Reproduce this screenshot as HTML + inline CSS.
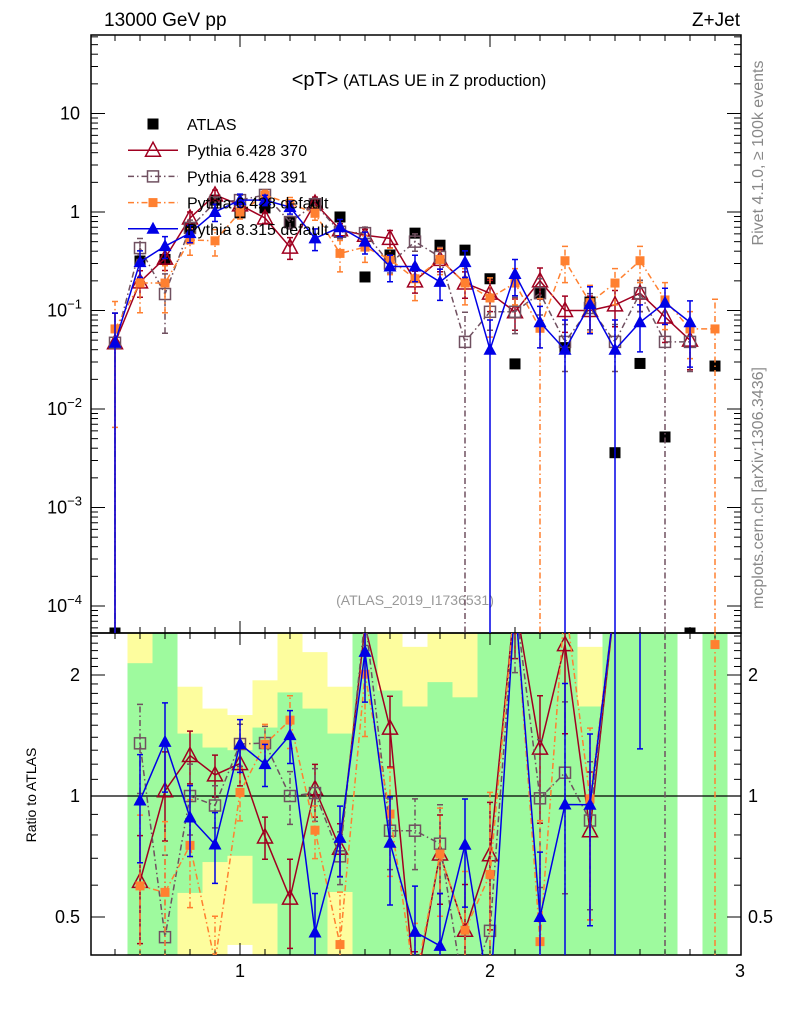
<!DOCTYPE html>
<html><head><meta charset="utf-8"><style>
html,body{margin:0;padding:0;background:#fff;width:786px;height:1024px;overflow:hidden;}
svg{display:block;font-family:"Liberation Sans",sans-serif;}
</style></head><body>
<svg id="chart" width="786" height="1024" viewBox="0 0 786 1024" xmlns="http://www.w3.org/2000/svg" overflow="hidden">
<defs>
<clipPath id="clipMain"><rect x="91" y="35" width="650" height="598"/></clipPath>
<clipPath id="clipRatio"><rect x="91" y="633" width="650" height="322"/></clipPath>
</defs>
<text x="104" y="26" font-size="19">13000 GeV pp</text>
<text x="740" y="26" font-size="19" text-anchor="end">Z+Jet</text>
<text x="419" y="86" font-size="16.5" text-anchor="middle"><tspan font-size="20">&lt;pT&gt;</tspan> (ATLAS UE in Z production)</text>
<text x="415" y="605" font-size="14" fill="#999" text-anchor="middle">(ATLAS_2019_I1736531)</text>
<text transform="translate(763,153) rotate(-90)" font-size="16" fill="#888" text-anchor="middle">Rivet 4.1.0, ≥ 100k events</text>
<text transform="translate(763,488) rotate(-90)" font-size="16" fill="#888" text-anchor="middle">mcplots.cern.ch [arXiv:1306.3436]</text>
<text transform="translate(36,795) rotate(-90)" font-size="14" text-anchor="middle">Ratio to ATLAS</text>
<g id="bands" clip-path="url(#clipRatio)"></g>
<g id="axes"></g>
<g id="mainMarks" clip-path="url(#clipMain)"></g>
<g id="ratioMarks" clip-path="url(#clipRatio)"></g>
<g id="legend"></g>
</svg>
<script>
// ---- data ----
const xBins = [0.5,0.6,0.7,0.8,0.9,1.0,1.1,1.2,1.3,1.4,1.5,1.6,1.7,1.8,1.9,2.0,2.1,2.2,2.3,2.4,2.5,2.6,2.7,2.8,2.9];
const atlasVals = [0,0.318,0.33,0.69,1.32,0.98,1.10,0.79,1.18,0.89,0.219,0.366,0.61,0.46,0.41,0.21,0.0287,0.152,0.042,0.122,0.0036,0.029,0.0052,0,0.0273];
const p370Vals = [0.047,0.195,0.34,0.87,1.49,1.18,0.87,0.44,1.23,0.66,0.58,0.54,0.20,0.33,0.19,0.15,0.097,0.20,0.10,0.10,0.114,0.15,0.086,0.05,null];
const p370Err = [1,0.3,0.25,0.15,0.12,0.12,0.12,0.25,0.15,0.15,0.15,0.2,0.25,0.25,0.3,0.35,0.35,0.35,0.4,0.4,0.4,0.35,0.45,0.5,0];
const p391Vals = [0.047,0.43,0.147,0.69,1.25,1.32,1.49,0.79,1.2,0.63,0.61,0.30,0.50,0.35,0.048,0.097,0.097,0.15,0.048,0.106,0.048,0.15,0.048,0.048,null];
const p391Err = [1,0.25,0.6,0.2,0.12,0.12,0.1,0.15,0.15,0.15,0.15,0.2,0.2,0.25,1,0.35,0.4,0.4,0.5,0.4,0.5,0.35,1,0.5,0];
const p6defVals = [0.065,0.19,0.19,0.52,0.51,1.0,1.48,1.22,0.97,0.38,0.44,0.33,0.21,0.33,0.19,0.134,0.19,0.066,0.32,0.12,0.19,0.32,0.128,0.065,0.065];
const p6defErr = [0.9,0.5,0.5,0.3,0.3,0.15,0.12,0.15,0.15,0.35,0.3,0.3,0.4,0.3,0.4,0.6,0.4,1,0.4,0.5,0.4,0.4,0.5,0.5,1];
const p8Vals = [0.047,0.31,0.45,0.61,1.0,1.32,1.32,1.12,0.54,0.70,0.50,0.28,0.28,0.195,0.31,0.040,0.235,0.076,0.040,0.116,0.040,0.076,0.12,0.076,null];
const p8Err = [1,0.3,0.25,0.2,0.2,0.15,0.12,0.15,0.25,0.2,0.25,0.3,0.3,0.35,0.3,1,0.4,0.45,1,0.5,1,0.5,0.4,0.65,0];
const greenHi = [null,2.14,3,1.43,1.32,1.30,1.48,1.81,1.65,1.43,3,1.83,1.67,1.92,1.76,3,3,3,3,1.67,3,3,3,null,3];
const greenLo = [null,0.3,0.3,0.574,0.685,0.71,0.54,0.3,0.3,0.577,0.3,0.3,0.3,0.3,0.3,0.3,0.3,0.3,0.3,0.3,0.3,0.3,0.3,null,0.3];
const yellowHi = [null,3,3,1.87,1.65,1.59,1.94,3,2.28,1.87,3,3,2.35,3,3,3,3,3,3,2.35,3,3,3,null,3];
const yellowLo = [null,0.3,0.3,0.3,0.3,0.426,0.3,0.3,0.3,0.3,0.3,0.3,0.3,0.3,0.3,0.3,0.3,0.3,0.3,0.3,0.3,0.3,0.3,null,0.3];
const xTickLabels = ["1","2","3"];
const xTickVals = [1,2,3];
const mainTickExps = [1,0,-1,-2,-3,-4];
const ratioTickVals = [0.5,1,2];
const ratioTickLabels = ["0.5","1","2"];

// ---- geometry ----
const L=91,R=741,T=35,B=633,RT=633,RB=955;
const binW=0.1;
function xScale(x){return 90+(x-0.4)*250;}
function yMain(v){ if(v===null) return null; if(v<=0) return 700; return 212-98.5*Math.log10(v);}
function yRatio(r){ if(r===null) return null; if(r<=0) return 1000; return Math.max(600,Math.min(1000,796-121*Math.log2(r)));}
const NS="http://www.w3.org/2000/svg";
function mk(parent,tag,attrs){const e=document.createElementNS(NS,tag);for(const k in attrs)e.setAttribute(k,attrs[k]);parent.appendChild(e);return e;}
const gAxes=document.getElementById('axes'),gMain=document.getElementById('mainMarks'),gRatio=document.getElementById('ratioMarks'),gBands=document.getElementById('bands'),gLeg=document.getElementById('legend');

// ---- bands ----
function drawBand(lo,hi,color,name){
  for(let i=0;i<xBins.length;i++){
    if(hi[i]===null) continue;
    const x0=xScale(xBins[i]-binW/2), x1=xScale(xBins[i]+binW/2);
    const y0=yRatio(hi[i]), y1=yRatio(lo[i]);
    const r=mk(gBands,'rect',{x:x0,y:y0,width:x1-x0,height:y1-y0,fill:color});
    
    
  }
}
drawBand(yellowLo,yellowHi,'#fdfd9e','ratio-band-yellow');
drawBand(greenLo,greenHi,'#9efa9e','ratio-band-green');

// ---- axes ----
const frameM=mk(gAxes,'rect',{x:L,y:T,width:R-L,height:B-T,fill:'none',stroke:'#000','stroke-width':1.5});


const frameR=mk(gAxes,'rect',{x:L,y:RT,width:R-L,height:RB-RT,fill:'none',stroke:'#000','stroke-width':1.5});


const unity=mk(gAxes,'line',{x1:L,x2:R,y1:yRatio(1),y2:yRatio(1),stroke:'#000','stroke-width':1.2});


function tick(x1,y1,x2,y2,name){const t=mk(gAxes,'line',{x1,y1,x2,y2,stroke:'#000','stroke-width':1});
  
  }
for(let k=5;k<=29;k++){const x=xScale(k/10);const major=(k%10===0);const len=major?12:6;
  tick(x,T,x,T+len,'x-tick-top');tick(x,B,x,B-len,'x-tick-main-bottom');
  tick(x,RT,x,RT+len,'x-tick-ratio-top');tick(x,RB,x,RB-len,'x-tick-bottom');}
xTickVals.forEach((v,i)=>{const t=mk(gAxes,'text',{x:xScale(v),y:977,'font-size':18,'text-anchor':'middle'});t.textContent=xTickLabels[i];
  
  });
for(let e=-5;e<=1;e++){for(let m=1;m<=9;m++){const v=m*Math.pow(10,e);const y=212-98.5*Math.log10(v);if(y<T||y>B)continue;const len=(m===1)?14:7;
  tick(L,y,L+len,y,'y-tick-main');tick(R,y,R-len,y,'y-tick-main-right');}}
mainTickExps.forEach(e=>{const y=212-98.5*e;const t=mk(gAxes,'text',{x:e<0?82:80,y:y+6,'font-size':18,'text-anchor':'end'});
  
  
  if(e===1)t.textContent='10';else if(e===0)t.textContent='1';
  else{t.textContent='10';const s=mk(t,'tspan',{dy:-8,'font-size':13});s.textContent='−'+(-e);}});
for(let r=0.4;r<=2.55;r+=0.1){const rr=Math.round(r*10)/10;const y=796-121*Math.log2(rr);if(y<RT||y>RB)continue;const major=(rr===0.5||rr===1||rr===2);const len=major?14:7;
  tick(L,y,L+len,y,'y-tick-ratio');tick(R,y,R-len,y,'y-tick-ratio-right');}
ratioTickVals.forEach((v,i)=>{const y=yRatio(v);
  const t=mk(gAxes,'text',{x:80,y:y+6,'font-size':18,'text-anchor':'end'});t.textContent=ratioTickLabels[i];
  
  
  const t2=mk(gAxes,'text',{x:748,y:y+6,'font-size':18});t2.textContent=ratioTickLabels[i];
  
  });

// ---- markers ----
function marker(g,type,x,y,color,name){let m;
  if(type==='sqf') m=mk(g,'rect',{x:x-5.5,y:y-5.5,width:11,height:11,fill:color});
  else if(type==='sqs') m=mk(g,'rect',{x:x-4.5,y:y-4.5,width:9,height:9,fill:color});
  else if(type==='sqo') m=mk(g,'rect',{x:x-5.5,y:y-5.5,width:11,height:11,fill:'none',stroke:color,'stroke-width':1.5});
  else if(type==='tro') m=mk(g,'polygon',{points:`${x},${y-8} ${x-7.5},${y+6} ${x+7.5},${y+6}`,fill:'none',stroke:color,'stroke-width':1.5});
  else m=mk(g,'polygon',{points:`${x},${y-7} ${x-6.5},${y+5} ${x+6.5},${y+5}`,fill:color});
  
  }

const series=[
 {name:'pythia6-370',vals:p370Vals,err:p370Err,color:'#a00020',dash:'',mk:'tro'},
 {name:'pythia6-391',vals:p391Vals,err:p391Err,color:'#705060',dash:'6,3,1.5,3',mk:'sqo'},
 {name:'pythia6-default',vals:p6defVals,err:p6defErr,color:'#ff8030',dash:'6,3,1.5,3',mk:'sqs'},
 {name:'pythia8-default',vals:p8Vals,err:p8Err,color:'#0000e6',dash:'',mk:'trf'}
];
function drawSeries(s,g,yfn,ratio){
  const pts=[];
  let path='';let pen=false;
  for(let i=0;i<xBins.length;i++){
    let v=s.vals[i];
    if(v!==null&&ratio){ v=(atlasVals[i]>0)?v/atlasVals[i]:null; }
    if(v===null){pen=false;continue;}
    const x=xScale(xBins[i]),y=yfn(v);
    path+=(pen?'L':'M')+x+','+y+' ';pen=true;
    pts.push([i,x,y,v]);
  }
  const ln=mk(g,'path',{d:path,fill:'none',stroke:s.color,'stroke-width':1.5,'stroke-dasharray':s.dash});
  
  
  pts.forEach(([i,x,y,v])=>{
    const e=s.err[i];if(e>0){
      const yl=yfn(v*(1-e)),yh=yfn(v*(1+e));
      const eb=mk(g,'path',{d:`M${x},${yl}L${x},${yh}M${x-3},${yl}L${x+3},${yl}M${x-3},${yh}L${x+3},${yh}`,stroke:s.color,'stroke-width':1.5,fill:'none','stroke-dasharray':s.dash});
      
      
    }
    marker(g,s.mk,x,y,s.color,s.name+(ratio?'-ratio-point':'-point'));
  });
}
for(let i=0;i<xBins.length;i++){const v=atlasVals[i];const y=v>0?yMain(v):B;marker(gMain,'sqf',xScale(xBins[i]),y,'#000','atlas-point');}
series.forEach(s=>drawSeries(s,gMain,yMain,false));
series.forEach(s=>drawSeries(s,gRatio,yRatio,true));

// ---- legend ----
const legNames=['ATLAS','Pythia 6.428 370','Pythia 6.428 391','Pythia 6.428 default','Pythia 8.315 default'];
legNames.forEach((n,k)=>{const y=124+k*26.2;
  if(k>0){const s=series[k-1];const l=mk(gLeg,'line',{x1:128,x2:178,y1:y,y2:y,stroke:s.color,'stroke-width':1.5,'stroke-dasharray':s.dash});
    
    
    marker(gLeg,s.mk,153,y,s.color,'legend-marker');}
  else marker(gLeg,'sqf',153,y,'#000','legend-marker');
  const t=mk(gLeg,'text',{x:187,y:y+6,'font-size':16});t.textContent=n;
  
  });
</script>
</body></html>
